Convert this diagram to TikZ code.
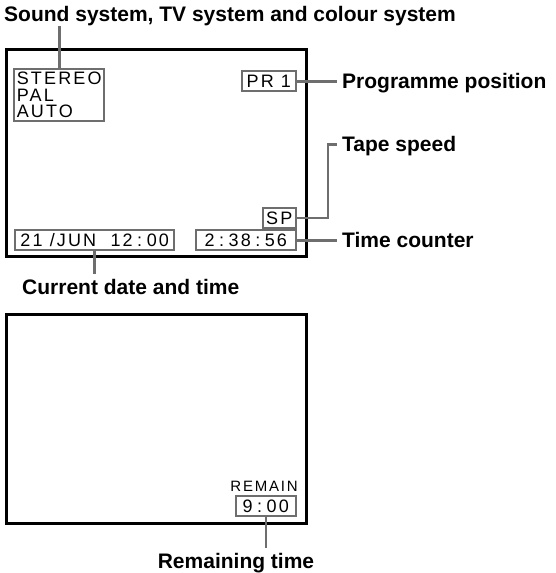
\documentclass[tikz,border=0pt]{standalone}
\usepackage{fontspec}
\setmainfont{Liberation Sans}
\newfontfamily\osdfont[LetterSpace=12]{Liberation Sans}
\definecolor{frameBlack}{RGB}{0, 0, 0}
\definecolor{osdGray}{RGB}{110, 110, 110}
\newcommand\osdcolon{\hspace{4.5pt}:\hspace{4.5pt}}
\usepackage{tikz}
\usetikzlibrary{positioning}

\begin{document}
\begin{tikzpicture}[
    x=1pt, y=-1pt,
    screen/.style={
      rectangle, draw=frameBlack, line width=2.6pt, fill=white,
      minimum width=300pt, inner sep=0pt, anchor=north west
    },
    osd/.style={
      rectangle, draw=osdGray, line width=2.4pt, fill=white,
      inner sep=0pt, font=\osdfont\fontsize{18}{16.5}\selectfont
    },
    osdline/.style={osd, minimum height=20pt, text height=12.9pt, text depth=0pt},
    lbl/.style={
      font=\fontsize{21}{25}\selectfont\bfseries,
      inner xsep=5pt, inner ysep=5pt, text height=15pt, text depth=0pt
    },
    lead/.style={draw=osdGray, line width=2.6pt},
  ]
    \useasboundingbox (0,0) rectangle (555,573);

    % Title
    \node[lbl, anchor=base west] (title) at (-1,21)
      {Sound system, TV system and colour system};

    % Upper screen
    \node[screen, minimum height=207pt] (tv) at (5,48) {};
    \node[osd, align=left, minimum width=90pt, minimum height=52pt, anchor=north west]
      (sound) at (13,68) {STEREO\\PAL\\AUTO};
    \node[osdline, minimum width=54pt, anchor=north east] (pr) at (297,70) {PR 1};
    \node[osdline, minimum width=33pt, anchor=south east] (sp) at (297,229) {SP};
    \node[osdline, minimum width=100pt, anchor=north east] (counter) at (297,229)
      {2\osdcolon38\osdcolon56};
    \node[osdline, minimum width=159pt, anchor=north west] (date) at (14,229)
      {21 /JUN\ \ 12\osdcolon00};

    % Labels
    \node[lbl, right=40pt of pr] (prog) {Programme position};
    \node[lbl, below=63pt of prog.west, anchor=west] (speed) {Tape speed};
    \node[lbl, right=40pt of counter] (timectr) {Time counter};
    \node[lbl, anchor=north west] (now) at (17,274) {Current date and time};

    % Lower screen
    \node[screen, minimum height=209pt] (tv2) at (5,313) {};
    \node[osd, draw=none, fill=none, font=\osdfont\fontsize{15}{15}\selectfont,
      anchor=base east] (remain) at (299,491) {REMAIN};
    \node[osdline, minimum width=60pt, anchor=north east] (nine) at (297,495)
      {9\osdcolon00};
    \node[lbl, anchor=north] (remtime) at (236,548) {Remaining time};

    % Leaders
    \draw[lead] (sound.north) -- (sound.north |- title.south);
    \draw[lead] (pr) -- (prog);
    \draw[lead] (sp.east) -- ++(31,0) |- (speed);
    \draw[lead] (counter) -- (timectr);
    \draw[lead] (date.south) -- (date.south |- now.north);
    \draw[lead] (nine.south) -- (nine.south |- remtime.north);
  \end{tikzpicture}
\end{document}
